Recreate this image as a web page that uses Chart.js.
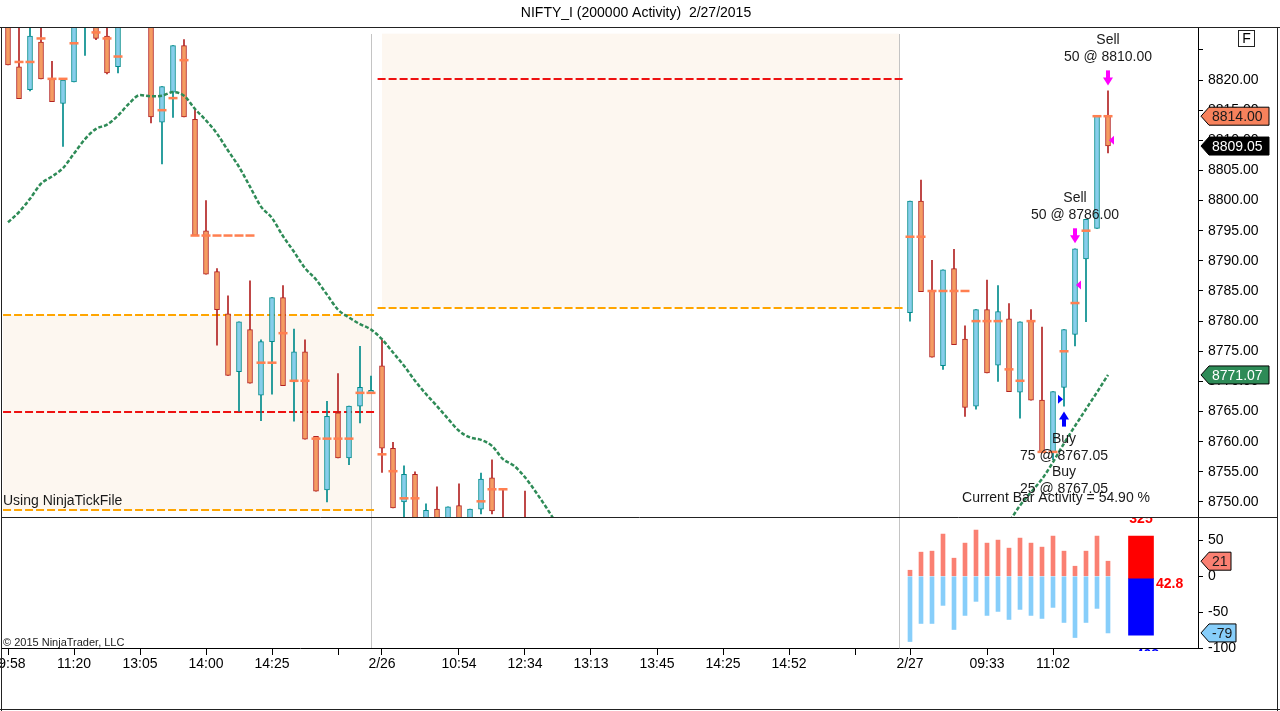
<!DOCTYPE html>
<html>
<head>
<meta charset="utf-8">
<script src="https://cdn.jsdelivr.net/npm/chart.js@4.4.1/dist/chart.umd.min.js"></script>
<style>html,body{margin:0;padding:0;background:#fff;overflow:hidden}canvas{display:block}</style>
</head>
<body>
<canvas id="chart" width="1280" height="711"></canvas>
<script>
// bar slots (index on the time axis), sessions 2/25-2/26 and 2/27
const barIdx = [0,1,2,3,4,5,6,7,8,9,10,11,12,13,14,15,16,17,18,19,20,21,22,23,24,25,26,27,28,29,30,31,32,33,34,35,36,37,38,39,40,41,42,43,44,45,46,47,
  82,83,84,85,86,87,88,89,90,91,92,93,94,95,96,97,98,99,100];
const opens = [8831.0,8822.2,8818.4,8826.3,8820.2,8816.1,8819.7,8831.0,8829.5,8827.3,8822.2,8834.0,8836.0,8833.0,8813.0,8818.0,8825.7,8813.5,8795.0,8788.2,8781.2,8771.6,8778.6,8767.7,8776.6,8783.9,8769.9,8774.9,8760.9,8752.0,8764.8,8757.3,8765.9,8768.1,8772.6,8758.9,8750.0,8754.6,8746.0,8748.8,8745.0,8749.4,8745.0,8748.8,8754.0,8746.0,8744.0,8745.0,
  8781.4,8799.9,8785.1,8772.6,8788.7,8777.0,8765.9,8781.9,8772.7,8780.4,8768.2,8780.0,8766.9,8758.3,8769.0,8777.8,8790.3,8795.4,8814.0];
const highs = [8833.0,8832.0,8830.0,8831.0,8823.1,8820.0,8832.0,8836.0,8831.0,8831.0,8832.0,8838.0,8839.0,8834.0,8818.9,8825.7,8826.7,8815.0,8800.0,8788.7,8784.2,8779.9,8786.7,8776.9,8783.9,8785.9,8778.7,8776.9,8760.9,8766.7,8771.3,8765.9,8775.8,8770.9,8776.9,8759.9,8756.0,8755.0,8749.7,8752.5,8749.2,8753.0,8748.8,8754.8,8757.0,8752.1,8746.0,8751.8,
  8799.9,8803.4,8790.1,8788.5,8791.9,8779.2,8781.9,8786.8,8785.9,8782.9,8779.9,8781.9,8779.0,8768.3,8778.6,8792.0,8796.9,8814.0,8818.2];
const lows = [8822.5,8816.9,8818.2,8820.2,8816.4,8809.0,8819.7,8824.1,8826.7,8821.0,8821.2,8830.0,8831.0,8812.9,8806.1,8813.8,8813.9,8794.2,8787.8,8776.0,8771.0,8765.0,8769.7,8763.5,8767.9,8769.3,8763.4,8760.4,8751.8,8750.0,8757.3,8756.2,8763.1,8768.1,8754.9,8749.0,8745.0,8744.0,8744.0,8744.0,8743.0,8744.0,8743.0,8748.0,8748.0,8742.0,8740.0,8740.0,
  8780.0,8784.9,8774.0,8772.0,8776.1,8764.2,8765.4,8771.4,8770.0,8768.3,8763.9,8766.9,8758.3,8757.0,8765.9,8775.9,8779.9,8795.4,8807.9];
const closes = [8822.5,8816.9,8827.3,8820.2,8816.4,8820.0,8831.0,8834.0,8826.9,8821.2,8830.5,8836.0,8833.0,8813.9,8818.9,8825.7,8813.9,8794.2,8787.8,8781.9,8771.0,8779.9,8769.7,8776.6,8783.9,8769.3,8774.9,8760.4,8751.8,8764.2,8757.3,8765.9,8769.0,8768.5,8758.9,8749.0,8754.6,8745.0,8748.6,8745.5,8749.2,8745.0,8748.8,8753.8,8748.5,8744.0,8742.0,8742.0,
  8799.9,8784.9,8774.0,8788.5,8776.1,8765.7,8781.9,8771.4,8781.6,8768.3,8779.9,8766.9,8758.3,8768.3,8778.6,8792.0,8796.9,8814.0,8809.05];
// coral hash marks per bar
const marks = [null,8823.0,8823.0,8826.9,8820.2,8820.2,8826.1,null,8827.9,8826.9,8823.9,null,null,null,8815.0,8817.0,8823.3,8794.2,8794.2,8794.2,8794.2,8794.2,8794.2,8773.1,8773.1,8778.0,8770.1,8770.1,8760.5,8760.5,8760.5,8760.5,8768.1,8768.1,8757.9,8755.1,8750.6,8750.6,null,null,null,null,null,8750.1,8752.1,8752.1,null,null,
  8794.0,8794.0,8785.0,8785.0,8785.0,8785.0,8780.0,8780.0,8780.0,8772.0,8770.1,8780.0,8758.3,8758.3,8775.0,8783.0,8795.0,8814.0,8814.0];

// moving average (green dashed)
const maIdx = [0,1,2,3,4,5,6,7,8,9,10,11,12,13,14,15,16,17,18,19,20,21,22,23,24,25,26,27,28,29,30,31,32,33,34,35,36,37,38,39,40,41,42,43,44,45,46,47,48,49,50,
  90,91,92,93,94,95,96,97,98,99,100];
const maVals = [8796.4,8798.1,8800.3,8802.8,8804.0,8805.4,8807.8,8810.2,8811.9,8812.6,8814.1,8816.1,8817.5,8817.3,8817.4,8818.0,8817.4,8815.2,8813.3,8811.1,8808.3,8805.6,8802.3,8799.0,8797.1,8794.1,8791.5,8788.8,8786.9,8784.4,8781.9,8780.6,8779.5,8778.6,8777.0,8774.8,8772.6,8770.1,8767.9,8765.9,8763.8,8761.8,8760.7,8760.3,8759.3,8757.1,8756.0,8754.1,8751.6,8748.9,8746.0,
  8743.5,8746.6,8749.4,8751.6,8753.8,8756.6,8759.7,8762.6,8765.4,8768.2,8771.07];

// activity panel
const actIdx = [82,83,84,85,86,87,88,89,90,91,92,93,94,95,96,97,98,99,100];
const actPos = [8.4,33.6,35,58.8,25.2,46.2,64.4,46.2,50.4,39.2,53.2,46.2,40.6,56,35,14,35,56,21];
const actNeg = [-91,-65.8,-65.8,-40.6,-74.2,-54.6,-35,-54.6,-49,-60.2,-46.2,-54.6,-58.8,-43.4,-64.4,-85.4,-64.4,-44.8,-79];
const gaugeIdx = 103;
const gaugeUp = [-2.8, 56];
const gaugeDown = [-82.2, -2.8];
const gaugeTexts = ['325', '42.8', '-408'];

// session boxes
const sessionBreaks = [33, 81];
const shadeFrom = [-0.45, 34], shadeTo = [33, 81];
const shadeTop = [8781.0, 8827.7], shadeBottom = [8748.6, 8782.2];
const lineFrom = [-0.45, 33.6], lineTo = [33.45, 81.45];
const orangeLevels = [[8781.0, 8748.6], [8782.2]];
const redLevels = [8764.9, 8820.1];

// trades
const sellIdx = [97, 100], sellQty = [50, 50], sellPrice = [8786.00, 8810.00];
const buyIdx = 96, buyQty = [75, 25], buyPrice = 8767.05;

// axes
const xTickIdx = [0, 6, 12, 18, 24, 30, 34, 41, 47, 53, 59, 65, 71, 77, 82, 89, 95];
const xTickLbl = ['09:58','11:20','13:05','14:00','14:25','','2/26','10:54','12:34','13:13','13:45','14:25','14:52','','2/27','09:33','11:02'];
const priceTicks = [8750,8755,8760,8765,8770,8775,8780,8785,8790,8795,8800,8805,8810,8815,8820,8825];
const actTicks = [-100, -50, 0, 50];

const FONT = "'Liberation Sans', Arial, sans-serif";
Chart.defaults.font.family = FONT;
Chart.defaults.font.size = 14;
Chart.defaults.color = '#000';

const isUp = k => closes[k] >= opens[k];

let maData = [];
maIdx.forEach((x, k) => {
  if (k > 0 && x - maIdx[k - 1] > 1) maData.push({x: (x + maIdx[k - 1]) / 2, y: null});
  maData.push({x: x, y: maVals[k]});
});

const panelClip = {
  id: 'panelClip',
  beforeDatasetDraw(chart, args) {
    const ys = chart.scales[args.meta.yAxisID];
    const a = chart.chartArea;
    chart.ctx.save();
    chart.ctx.beginPath();
    chart.ctx.rect(a.left, ys.top, a.right - a.left, ys.bottom - ys.top);
    chart.ctx.clip();
  },
  afterDatasetDraw(chart) { chart.ctx.restore(); }
};

function tag(ctx, yp, text, fill, fg, w) {
  const x0 = 1201, h = 9;
  ctx.beginPath();
  ctx.moveTo(x0, yp); ctx.lineTo(x0 + 8, yp - h); ctx.lineTo(x0 + w, yp - h);
  ctx.lineTo(x0 + w, yp + h); ctx.lineTo(x0 + 8, yp + h); ctx.closePath();
  ctx.fillStyle = fill; ctx.fill();
  ctx.strokeStyle = '#000'; ctx.lineWidth = 1; ctx.stroke();
  ctx.fillStyle = fg; ctx.font = '14px ' + FONT;
  ctx.textAlign = 'left'; ctx.textBaseline = 'middle';
  ctx.fillText(text, x0 + 11, yp + 1);
}

function arrow(ctx, cx, tipY, dir, color) {
  // dir 1 = pointing down, -1 = pointing up
  ctx.fillStyle = color;
  ctx.fillRect(cx - 2, tipY - dir * 15 - (dir < 0 ? 8 : 0), 4, 8);
  ctx.beginPath();
  ctx.moveTo(cx - 5, tipY - dir * 8); ctx.lineTo(cx + 5, tipY - dir * 8); ctx.lineTo(cx, tipY);
  ctx.closePath(); ctx.fill();
}

function tri(ctx, tipX, cy, dir, color) {
  // dir -1 = pointing left, 1 = pointing right
  ctx.fillStyle = color;
  ctx.beginPath();
  ctx.moveTo(tipX, cy); ctx.lineTo(tipX - dir * 5, cy - 4.5); ctx.lineTo(tipX - dir * 5, cy + 4.5);
  ctx.closePath(); ctx.fill();
}

const overlay = {
  id: 'overlay',
  beforeDatasetsDraw(chart) {
    const {ctx, chartArea: a, scales: {x, y, y2}} = chart;
    ctx.save();
    ctx.beginPath(); ctx.rect(a.left, y.top, a.right - a.left, y.bottom - y.top); ctx.clip();
    ctx.fillStyle = '#fdf7f0';
    shadeFrom.forEach((f, k) => {
      const x0 = x.getPixelForValue(f), x1 = x.getPixelForValue(shadeTo[k]);
      const t = y.getPixelForValue(shadeTop[k]), b = y.getPixelForValue(shadeBottom[k]);
      ctx.fillRect(x0, t, x1 - x0, b - t);
    });
    ctx.restore();

    ctx.save();
    ctx.strokeStyle = '#c4c4c4'; ctx.lineWidth = 1;
    sessionBreaks.forEach(s => {
      const px = Math.round(x.getPixelForValue(s)) + 0.5;
      ctx.beginPath(); ctx.moveTo(px, y.top + 7); ctx.lineTo(px, y2.bottom); ctx.stroke();
    });
    ctx.setLineDash([8, 3]); ctx.lineWidth = 2;
    lineFrom.forEach((f, k) => {
      const x0 = x.getPixelForValue(f), x1 = x.getPixelForValue(lineTo[k]);
      ctx.strokeStyle = '#ffa500';
      orangeLevels[k].forEach(v => {
        const py = Math.round(y.getPixelForValue(v));
        ctx.beginPath(); ctx.moveTo(x0, py); ctx.lineTo(x1, py); ctx.stroke();
      });
      ctx.strokeStyle = '#ee1111';
      const py = Math.round(y.getPixelForValue(redLevels[k]));
      ctx.beginPath(); ctx.moveTo(x0, py); ctx.lineTo(x1, py); ctx.stroke();
    });
    ctx.restore();
  },
  afterDatasetsDraw(chart) {
    const {ctx, scales: {x, y, y2}} = chart;
    ctx.save();
    // sell arrows, labels and exit marks
    sellIdx.forEach((i, k) => {
      const kk = barIdx.indexOf(i);
      const cx = x.getPixelForValue(i);
      const tip = y.getPixelForValue(highs[kk]) - 5.5;
      arrow(ctx, cx, tip, 1, '#ff00ff');
      tri(ctx, cx + 1, y.getPixelForValue(sellPrice[k]), -1, '#ff00ff');
      ctx.fillStyle = '#1a1a1a'; ctx.font = '14px ' + FONT;
      ctx.textAlign = 'center'; ctx.textBaseline = 'middle';
      ctx.fillText('Sell', cx, tip - 15 - 30);
      ctx.fillText(sellQty[k] + ' @ ' + sellPrice[k].toFixed(2), cx, tip - 15 - 13);
    });
    // buy arrow and labels
    {
      const kk = barIdx.indexOf(buyIdx);
      const cx = x.getPixelForValue(buyIdx);
      const tip = y.getPixelForValue(lows[kk]) + 5.5;
      tri(ctx, cx - 1, y.getPixelForValue(buyPrice), 1, '#0000ff');
      arrow(ctx, cx, tip, -1, '#0000ff');
      ctx.fillStyle = '#1a1a1a'; ctx.font = '14px ' + FONT;
      ctx.textAlign = 'center'; ctx.textBaseline = 'middle';
      let ty = tip + 15 + 13;
      buyQty.forEach(q => {
        ctx.fillText('Buy', cx, ty);
        ctx.fillText(q + ' @ ' + buyPrice.toFixed(2), cx, ty + 17);
        ty += 33;
      });
    }
    ctx.textAlign = 'left';
    ctx.fillText('Using NinjaTickFile', 3, y.bottom - 16);
    ctx.textAlign = 'right';
    ctx.fillText('Current Bar Activity = 54.90 %', 1150, y.bottom - 19);

    // gauge texts clipped to lower panel
    ctx.save();
    ctx.beginPath(); ctx.rect(1100, y2.top, 98, y2.bottom - y2.top + 3); ctx.clip();
    const gx = x.getPixelForValue(gaugeIdx);
    ctx.font = 'bold 14px ' + FONT; ctx.textAlign = 'center'; ctx.textBaseline = 'alphabetic';
    ctx.fillStyle = '#ff0000';
    ctx.fillText(gaugeTexts[0], gx, y2.top + 6);
    ctx.fillStyle = '#0000ff';
    ctx.fillText(gaugeTexts[2], gx + 4, y2.bottom + 11);
    ctx.restore();
    ctx.font = 'bold 14px ' + FONT; ctx.fillStyle = '#ff0000';
    ctx.textAlign = 'left'; ctx.textBaseline = 'middle';
    ctx.fillText(gaugeTexts[1], gx + 15, y2.getPixelForValue(gaugeUp[0]) + 6);

    // right axis tags
    tag(ctx, y.getPixelForValue(marks[marks.length - 1]), marks[marks.length - 1].toFixed(2), '#f7825c', '#1a1a1a', 68);
    tag(ctx, y.getPixelForValue(closes[closes.length - 1]), closes[closes.length - 1].toFixed(2), '#000000', '#ffffff', 68);
    tag(ctx, y.getPixelForValue(maVals[maVals.length - 1]), maVals[maVals.length - 1].toFixed(2), '#2e8b57', '#ffffff', 68);
    tag(ctx, y2.getPixelForValue(actPos[actPos.length - 1]), String(actPos[actPos.length - 1]), '#fa8072', '#1a1a1a', 30);
    tag(ctx, y2.getPixelForValue(actNeg[actNeg.length - 1]), String(actNeg[actNeg.length - 1]), '#87cefa', '#1a1a1a', 35);
    ctx.restore();
  },
  afterDraw(chart) {
    const {ctx, scales: {y, y2}} = chart;
    ctx.save();
    ctx.fillStyle = '#000'; ctx.font = '14px ' + FONT;
    ctx.textAlign = 'center'; ctx.textBaseline = 'middle';
    ctx.fillText('NIFTY_I (200000 Activity)  2/27/2015', 636, 13);
    ctx.strokeStyle = '#222'; ctx.lineWidth = 1;
    ctx.beginPath();
    ctx.moveTo(0, 27.5); ctx.lineTo(1280, 27.5);
    ctx.moveTo(1, Math.round(y.bottom) + 0.5); ctx.lineTo(1278, Math.round(y.bottom) + 0.5);
    ctx.moveTo(1.5, 27); ctx.lineTo(1.5, 711);
    ctx.moveTo(1277.5, 27); ctx.lineTo(1277.5, 711);
    ctx.moveTo(0, 709.5); ctx.lineTo(1280, 709.5);
    ctx.stroke();
    ctx.strokeRect(1238.5, 30.5, 16, 16);
    ctx.fillText('F', 1246.5, 39);
    ctx.font = '11px ' + FONT; ctx.fillStyle = '#222'; ctx.textAlign = 'left';
    ctx.fillText('\u00a9 2015 NinjaTrader, LLC', 3, y2.bottom - 5);
    ctx.restore();
  }
};

const axisGrid = {drawOnChartArea: false, drawTicks: true, tickLength: 5, color: '#000', tickColor: '#000'};

new Chart(document.getElementById('chart'), {
  type: 'bar',
  data: {
    datasets: [
      {
        label: 'wick', yAxisID: 'y', order: 4, grouped: false, barThickness: 1,
        data: barIdx.map((x, k) => ({x: x, y: [lows[k], highs[k]]})),
        backgroundColor: c => isUp(c.dataIndex) ? '#008b8b' : '#b22222', borderWidth: 0
      },
      {
        label: 'body', yAxisID: 'y', order: 3, grouped: false, barThickness: 5,
        data: barIdx.map((x, k) => ({x: x, y: [opens[k], closes[k]]})),
        backgroundColor: c => isUp(c.dataIndex) ? '#87ceeb' : '#f59c62',
        borderColor: c => isUp(c.dataIndex) ? '#008b8b' : '#b22222',
        borderWidth: 1, borderSkipped: false
      },
      {
        type: 'line', label: 'marks', yAxisID: 'y', order: 2, showLine: false,
        data: barIdx.map((x, k) => ({x: x, y: marks[k]})).filter(p => p.y !== null),
        pointStyle: 'line', pointRadius: 4.5, pointBorderWidth: 2.5,
        pointBorderColor: '#ff7f50', pointBackgroundColor: '#ff7f50'
      },
      {
        type: 'line', label: 'ma', yAxisID: 'y', order: 1, data: maData,
        borderColor: '#2e8b57', borderWidth: 2.5, borderDash: [4, 2],
        pointRadius: 0, cubicInterpolationMode: 'monotone'
      },
      {
        label: 'actPos', yAxisID: 'y2', grouped: false, barThickness: 4,
        data: actIdx.map((x, k) => ({x: x, y: [0, actPos[k]]})),
        backgroundColor: '#fa8072', borderWidth: 0
      },
      {
        label: 'actNeg', yAxisID: 'y2', grouped: false, barThickness: 4,
        data: actIdx.map((x, k) => ({x: x, y: [actNeg[k], 0]})),
        backgroundColor: '#87cefa', borderWidth: 0
      },
      {
        label: 'gaugeUp', yAxisID: 'y2', grouped: false, barThickness: 25,
        data: [{x: gaugeIdx, y: gaugeUp}], backgroundColor: '#ff0000', borderWidth: 0
      },
      {
        label: 'gaugeDown', yAxisID: 'y2', grouped: false, barThickness: 25,
        data: [{x: gaugeIdx, y: gaugeDown}], backgroundColor: '#0000ff', borderWidth: 0
      }
    ]
  },
  options: {
    responsive: false,
    devicePixelRatio: 1,
    animation: false,
    layout: {autoPadding: false, padding: {top: 27, left: 1, right: 2, bottom: 1}},
    plugins: {legend: {display: false}, tooltip: {enabled: false}},
    scales: {
      x: {
        type: 'linear', position: 'bottom', offset: false,
        min: -7 / 11, max: 1190 / 11,
        grid: {offset: false, drawOnChartArea: false, drawTicks: true, tickLength: 7, color: '#000', tickColor: '#000'},
        border: {display: true, color: '#000'},
        ticks: {autoSkip: false, maxRotation: 0, padding: 1, callback: (v, i) => xTickLbl[i]},
        afterBuildTicks: s => { s.ticks = xTickIdx.map(v => ({value: v})); },
        afterFit: s => { s.height = 62; s.paddingLeft = 0; s.paddingRight = 0; }
      },
      y: {
        type: 'linear', position: 'right', stack: 'panels', stackWeight: 490,
        min: 8747.5, max: 8828.8,
        grid: axisGrid, border: {display: true, color: '#000'},
        ticks: {autoSkip: false, padding: 5, callback: v => v > 8820 ? '' : v.toFixed(2)},
        afterBuildTicks: s => { s.ticks = priceTicks.map(v => ({value: v})); },
        afterFit: s => { s.width = 80; s.paddingTop = 0; s.paddingBottom = 0; }
      },
      y2: {
        type: 'linear', position: 'right', stack: 'panels', stackWeight: 131,
        min: -100, max: 82.6,
        grid: axisGrid, border: {display: true, color: '#000'},
        ticks: {autoSkip: false, padding: 5, callback: v => String(v)},
        afterBuildTicks: s => { s.ticks = actTicks.map(v => ({value: v})); },
        afterFit: s => { s.width = 80; s.paddingTop = 0; s.paddingBottom = 0; }
      }
    }
  },
  plugins: [panelClip, overlay]
});
</script>
</body>
</html>
